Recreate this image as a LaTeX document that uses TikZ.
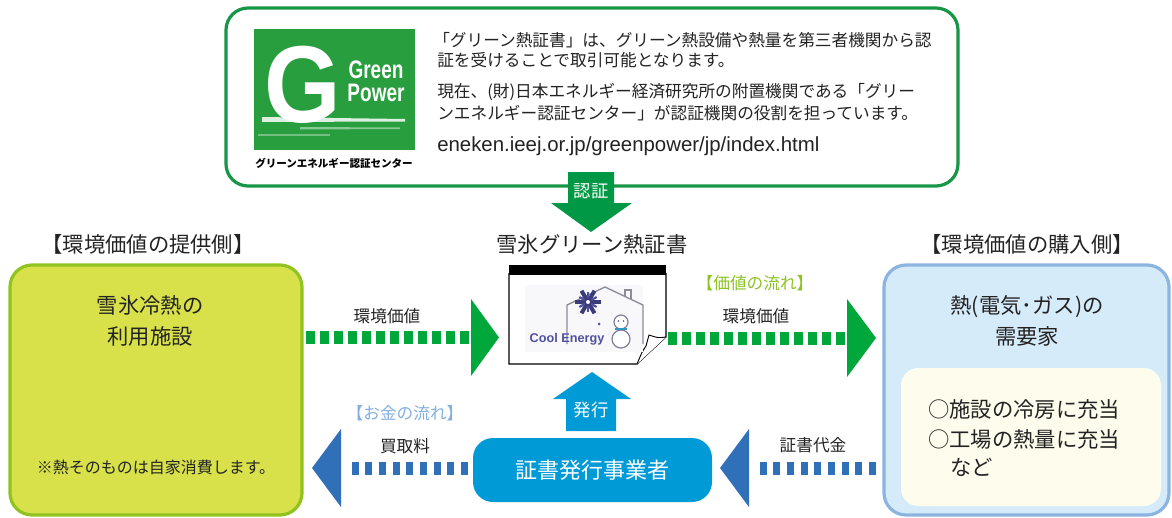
\documentclass[tikz,border=0pt]{standalone}
\usepackage{fontspec}
\setmainfont{Noto Sans CJK JP}
\newfontfamily\latinbold{Liberation Sans}
\usetikzlibrary{calc}

\definecolor{framegreen}{RGB}{22,150,70}
\definecolor{arrowgreen}{RGB}{0,152,68}
\definecolor{flowgreen}{RGB}{0,168,60}
\definecolor{flowblue}{RGB}{47,112,185}
\definecolor{issuerblue}{RGB}{0,155,215}
\definecolor{supplyfill}{RGB}{216,225,74}
\definecolor{supplyline}{RGB}{144,195,31}
\definecolor{buyfill}{RGB}{214,235,249}
\definecolor{buyline}{RGB}{140,180,225}
\definecolor{cream}{RGB}{254,252,236}
\definecolor{valuelabel}{RGB}{140,195,35}
\definecolor{moneylabel}{RGB}{130,175,225}
\definecolor{logogreen}{RGB}{40,158,62}
\definecolor{textgray}{RGB}{35,35,35}
\definecolor{emblem}{RGB}{80,80,160}
\definecolor{housegray}{RGB}{140,140,150}

\tikzset{
  txt/.style={inner sep=0pt, text=textgray},
  toptext/.style={txt, anchor=west, font=\fontsize{12.5}{15}\selectfont},
  headtext/.style={txt, font=\fontsize{16}{20}\selectfont},
  boxtext/.style={txt, font=\fontsize{16}{20}\selectfont},
  flowtext/.style={txt, font=\fontsize{12.5}{15}\selectfont},
  roundbox/.style={rounded corners=16.5pt, line width=2.4pt, inner sep=0pt},
  greendash/.style={draw=flowgreen, line width=9.75pt, dash pattern=on 6.75pt off 3.75pt},
  bluedash/.style={draw=flowblue, line width=9.75pt, dash pattern=on 5.25pt off 5pt},
  whitelabel/.style={inner sep=0pt, text=white, font=\fontsize{13}{15}\selectfont}
}

\begin{document}
\begin{tikzpicture}[x=0.75pt,y=-0.75pt]
\useasboundingbox (0,0) rectangle (1172,518);

% ---------- certification body panel ----------
\node[roundbox, draw=framegreen, fill=white, minimum width=549pt, minimum height=133.5pt] (topbox) at (592,97) {};

% Green Power logo
\node[fill=logogreen, inner sep=0pt, minimum width=120.75pt, minimum height=90.75pt] (logo) at (334.5,89.5) {};
\fill[white, opacity=0.85] (262,117) -- (405,119) -- (405,121.5) -- (262,122) -- cycle;
\fill[white, opacity=0.45] (300,127) -- (400,127.5) -- (400,129) -- (300,129.5) -- cycle;
\fill[white, opacity=0.35] (258,134) -- (330,134) -- (330,136) -- (258,136) -- cycle;
\node[inner sep=0pt, text=white, font=\latinbold\bfseries\fontsize{82}{82}\selectfont] (logoG) at (303,85) {\scalebox{0.9}[1]{G}};
\node[inner sep=0pt, text=white, font=\latinbold\bfseries\fontsize{19}{19}\selectfont] (logoGreen) at (376,70) {\scalebox{0.75}[1]{Green}};
\node[inner sep=0pt, text=white, font=\latinbold\bfseries\fontsize{19}{19}\selectfont] (logoPower) at (376,93) {\scalebox{0.75}[1]{Power}};
\node[txt, text=black, font=\bfseries\fontsize{7.9}{9}\selectfont] (logocap) at (334,163) {グリーンエネルギー認証センター};

% explanation
\node[toptext] (t1) at (433,40) {「グリーン熱証書」は、グリーン熱設備や熱量を第三者機関から認};
\node[toptext] (t2) at (437,60) {証を受けることで取引可能となります。};
\node[toptext] (t3) at (437,92) {現在、(財)日本エネルギー経済研究所の附置機関である「グリー};
\node[toptext] (t4) at (437,113) {ンエネルギー認証センター」が認証機関の役割を担っています。};
\node[txt, anchor=west, font=\latinbold\fontsize{15.3}{16}\selectfont] (url) at (437,146) {eneken.ieej.or.jp/greenpower/jp/index.html};

% certification arrow
\fill[arrowgreen] (568,172) -- (614,172) -- (614,203) -- (632,203) -- (591,232) -- (551,203) -- (568,203) -- cycle;
\node[whitelabel] (certlbl) at (591,191) {認証};

% ---------- headings ----------
\node[headtext] (supplyhead) at (148,244) {【環境価値の提供側】};
\node[headtext] (certhead) at (592,244) {雪氷グリーン熱証書};
\node[headtext] (buyhead) at (1027,244) {【環境価値の購入側】};

% ---------- supplier ----------
\node[roundbox, draw=supplyline, fill=supplyfill, minimum width=219pt, minimum height=187.5pt] (leftbox) at (156,390) {};
\node[boxtext] (s1) at (150,305) {雪氷冷熱の};
\node[boxtext] (s2) at (150,336) {利用施設};
\node[txt, font=\fontsize{12}{15}\selectfont] (s3) at (156,467) {※熱そのものは自家消費します。};

% ---------- buyer ----------
\node[roundbox, draw=buyline, fill=buyfill, minimum width=213.75pt, minimum height=187.5pt] (rightbox) at (1026.5,390) {};
\node[boxtext] (b1) at (1027,307) {熱(電気･ガス)の};
\node[boxtext] (b2) at (1027,336) {需要家};
\node[fill=cream, rounded corners=13pt, inner sep=0pt, minimum width=195pt, minimum height=103.5pt] (usebox) at (1031,437) {};
\node[boxtext, anchor=west] (u1) at (928,409) {○施設の冷房に充当};
\node[boxtext, anchor=west] (u2) at (928,439) {○工場の熱量に充当};
\node[boxtext, anchor=west] (u3) at (950,467) {など};

% ---------- certificate ----------
\draw[line width=0.8pt, fill=white] (509,273) -- (509,364) -- (637,364) -- (666,337) -- (666,273);
\fill[black] (509,265) rectangle (666,275);
\draw[line width=0.7pt, fill=white] (666,337) .. controls (658,338) .. (649,335) -- (646,346) .. controls (642,352) .. (637,364);
\fill[white!96!emblem] (525,285) rectangle (643,352);
% house outline
\draw[housegray, line width=1pt] (567,344) -- (567,305) -- (605,287) -- (643,305) -- (643,344);
\draw[housegray, line width=1pt] (625,296) -- (625,290) -- (631,290) -- (631,299);
% snowflake
\foreach \a in {0,60,120} {
  \draw[emblem!75!black, line width=3pt] ($(588,302)+(\a:13)$) -- ($(588,302)+(\a+180:13)$);
}
\foreach \a in {30,90,...,330} {
  \draw[emblem, line width=1.6pt] ($(588,302)+(\a:4)$) -- ($(588,302)+(\a:10)$);
}
\fill[white] (588,302) circle (2);
\fill[emblem] (599,324) circle (1.5);
% snowman
\draw[housegray!80!emblem, fill=white, line width=0.9pt] (621,339) circle (9);
\draw[housegray!80!emblem, fill=white, line width=0.9pt] (621,322) circle (7);
\fill[emblem] (618.5,321) circle (0.9) (623.5,321) circle (0.9);
\draw[emblem!60!cyan, line width=1.6pt] (615,329) -- (627,329);
\node[inner sep=0pt, text=emblem, font=\latinbold\bfseries\fontsize{9.5}{10}\selectfont] (coolenergy) at (567,339) {Cool Energy};

% ---------- value flow (green) ----------
\node[txt, text=valuelabel, font=\fontsize{12.5}{15}\selectfont] (valueflow) at (755,283) {【価値の流れ】};
\coordinate (g1s) at (306,337.5);
\coordinate (g1e) at (471,337.5);
\draw[greendash] (g1s) -- (g1e);
\fill[flowgreen] (471,299) -- (499,337.5) -- (471,376) -- cycle;
\node[flowtext] (g1lbl) at (387,316) {環境価値};

\coordinate (g2s) at (668,338);
\coordinate (g2e) at (847,338);
\draw[greendash] (g2s) -- (g2e);
\fill[flowgreen] (847,299) -- (876,338) -- (847,377) -- cycle;
\node[flowtext] (g2lbl) at (756,316) {環境価値};

% ---------- issuer ----------
\node[fill=issuerblue, rounded corners=15pt, inner sep=0pt, minimum width=179.25pt, minimum height=48pt, text=white, font=\fontsize{16.5}{20}\selectfont] (issuer) at (592.5,470) {証書発行事業者};
\fill[issuerblue] (566,431) -- (566,399) -- (553,399) -- (592,372) -- (631,399) -- (616,399) -- (616,431) -- cycle;
\node[whitelabel] (issuelbl) at (591,410) {発行};

% ---------- money flow (blue) ----------
\node[txt, text=moneylabel, font=\fontsize{12.5}{15}\selectfont] (moneyflow) at (405,413) {【お金の流れ】};
\coordinate (m1s) at (468,468);
\coordinate (m1e) at (346,468);
\draw[bluedash] (m1s) -- (m1e);
\fill[flowblue] (341,429) -- (312,468) -- (341,507) -- cycle;
\node[flowtext] (m1lbl) at (405,446) {買取料};

\coordinate (m2s) at (876,468);
\coordinate (m2e) at (754,468);
\draw[bluedash] (m2s) -- (m2e);
\fill[flowblue] (749,429) -- (720,468) -- (749,507) -- cycle;
\node[flowtext] (m2lbl) at (813,445) {証書代金};

\end{tikzpicture}
\end{document}
